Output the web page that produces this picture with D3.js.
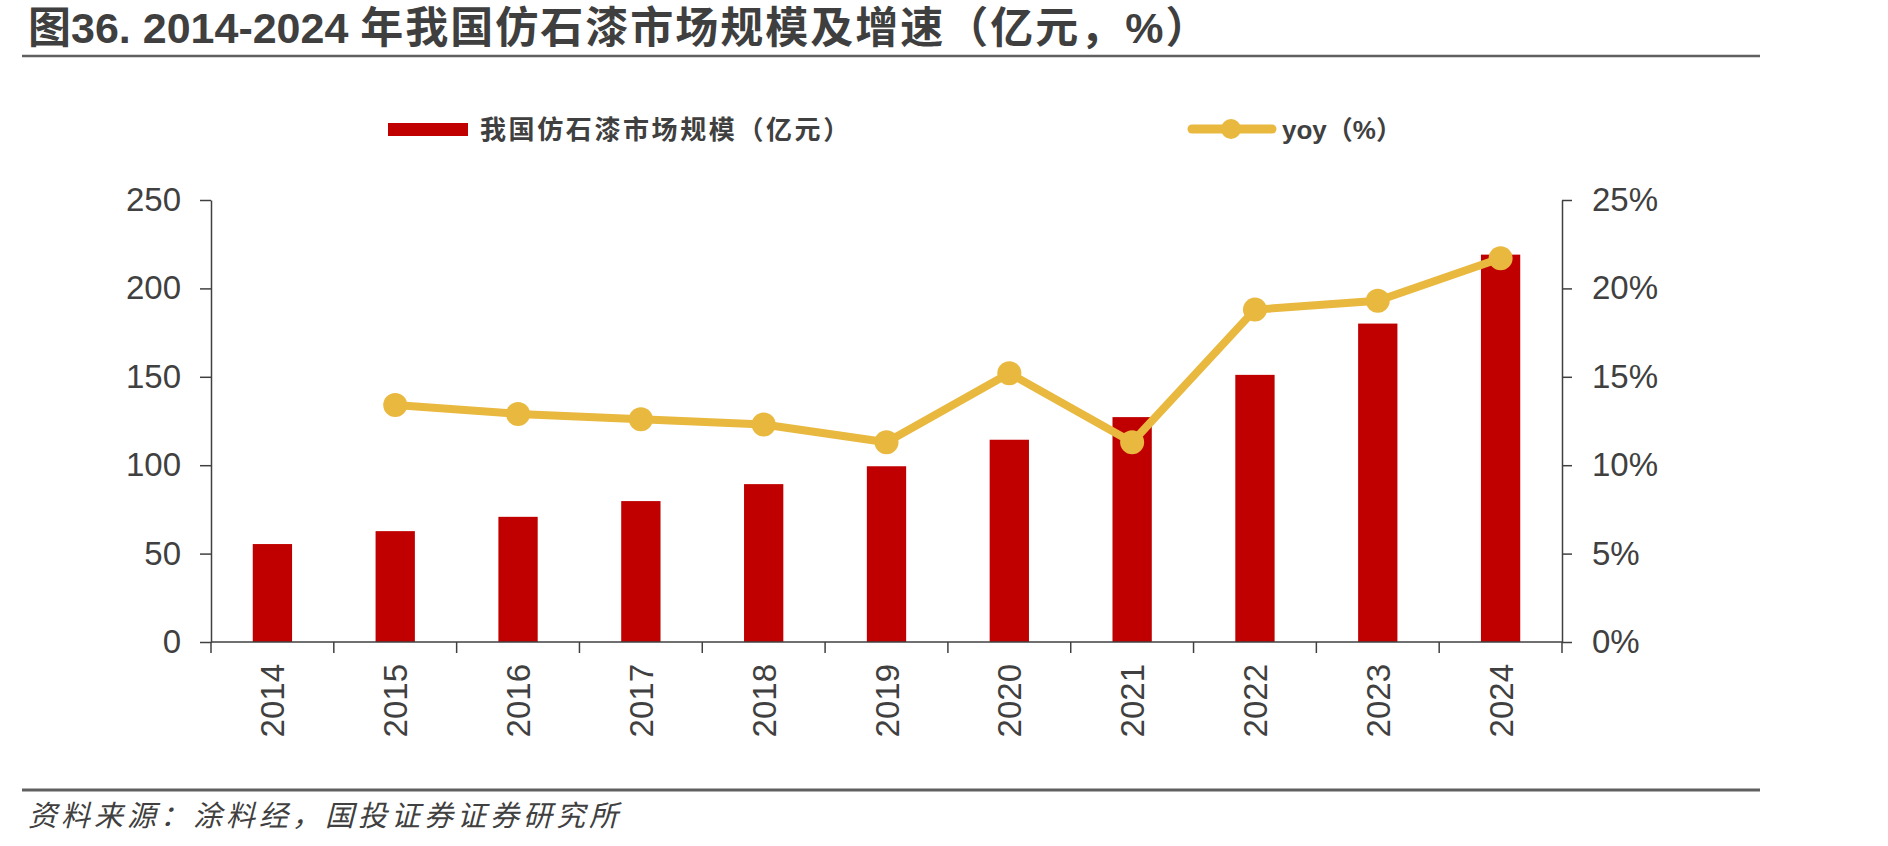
<!DOCTYPE html>
<html>
<head>
<meta charset="utf-8">
<script src="https://cdn.jsdelivr.net/npm/d3@7"></script>
<style>
  body { margin: 0; background: #fff; }
  svg { display: block; }
  .axis text { font-family: "Liberation Sans", Arial, sans-serif; font-size: 33px; fill: #404040; }
  .axis path, .axis line { stroke: #404040; stroke-width: 1.5; }
</style>
</head>
<body>
<div id="chart"></div>
<script>
// data
const years = ['2014','2015','2016','2017','2018','2019','2020','2021','2022','2023','2024'];
const marketSize = [55.4, 62.7, 70.8, 79.7, 89.3, 99.4, 114.4, 127.2, 151.1, 180.1, 219.1];
const yoy = [null, 13.4, 12.9, 12.6, 12.3, 11.3, 15.2, 11.3, 18.8, 19.3, 21.7];
const leftTicks = [0, 50, 100, 150, 200, 250];
const rightTicks = [0, 5, 10, 15, 20, 25];

const barLabel = '我国仿石漆市场规模（亿元）';
const lineLabel = 'yoy（%）';
const titleParts = ['图36. 2014-2024 ', '年我国仿石漆市场规模及增速（亿元，%）'];
const sourceText = '资料来源：涂料经，国投证券证券研究所';

const width = 1888, height = 846;
const plot = {left: 211, right: 1562, top: 200, bottom: 642};
const barColor = '#C00000', lineColor = '#E9B83E', textColor = '#404040';

const svg = d3.select('#chart').append('svg')
  .attr('width', width).attr('height', height);

// title
const title = svg.append('text')
  .attr('x', 28).attr('y', 43)
  .style('font-family', '"Liberation Sans", "Noto Sans CJK SC", sans-serif')
  .style('font-size', '43px').style('font-weight', 'bold')
  .style('fill', '#3f3f3f');
title.append('tspan').text(titleParts[0]);
title.append('tspan').style('letter-spacing', '2px').text(titleParts[1]);
svg.append('line').attr('x1', 22).attr('x2', 1760).attr('y1', 56).attr('y2', 56)
  .attr('stroke', '#606060').attr('stroke-width', 2.5);

// scales
const x = d3.scaleBand().domain(years).range([plot.left, plot.right])
  .paddingInner(0.68).paddingOuter(0.34);
const xEdge = d3.scaleLinear().domain([0, years.length]).range([plot.left, plot.right]);
const yL = d3.scaleLinear().domain([0, 250]).range([plot.bottom, plot.top]);
const yR = d3.scaleLinear().domain([0, 25]).range([plot.bottom, plot.top]);

// bars
svg.append('g').selectAll('rect').data(years).join('rect')
  .attr('x', d => x(d))
  .attr('y', (d, i) => yL(marketSize[i]))
  .attr('width', x.bandwidth())
  .attr('height', (d, i) => yL(0) - yL(marketSize[i]))
  .attr('fill', barColor);

// axes
svg.append('g').attr('class', 'axis')
  .attr('transform', `translate(${plot.left},0)`)
  .call(d3.axisLeft(yL).tickValues(leftTicks).tickSize(11).tickSizeOuter(0).tickPadding(19));
svg.append('g').attr('class', 'axis')
  .attr('transform', `translate(${plot.right},0)`)
  .call(d3.axisRight(yR).tickValues(rightTicks).tickSize(10).tickSizeOuter(0).tickPadding(20)
    .tickFormat(d => d + '%'));

const xAxis = svg.append('g').attr('class', 'axis');
xAxis.append('line')
  .attr('x1', plot.left).attr('x2', plot.right)
  .attr('y1', plot.bottom).attr('y2', plot.bottom);
xAxis.selectAll('.tick-edge').data(d3.range(years.length + 1)).join('line')
  .attr('class', 'tick-edge')
  .attr('x1', d => xEdge(d)).attr('x2', d => xEdge(d))
  .attr('y1', plot.bottom).attr('y2', plot.bottom + 11);
xAxis.selectAll('.xlabel').data(years).join('text')
  .attr('class', 'xlabel')
  .attr('transform', d => `translate(${x(d) + x.bandwidth() / 2 + 12},${plot.bottom + 22}) rotate(-90)`)
  .attr('text-anchor', 'end')
  .text(d => d);

// line
const pts = years.map((d, i) => ({year: d, v: yoy[i]})).filter(d => d.v != null);
const line = d3.line()
  .x(d => x(d.year) + x.bandwidth() / 2)
  .y(d => yR(d.v));
svg.append('path').datum(pts)
  .attr('d', line)
  .attr('fill', 'none')
  .attr('stroke', lineColor)
  .attr('stroke-width', 8)
  .attr('stroke-linejoin', 'round');
svg.append('g').selectAll('circle').data(pts).join('circle')
  .attr('cx', d => x(d.year) + x.bandwidth() / 2)
  .attr('cy', d => yR(d.v))
  .attr('r', 12)
  .attr('fill', lineColor);

// legend
const legend = svg.append('g');
legend.append('rect').attr('x', 388).attr('y', 123).attr('width', 80).attr('height', 13).attr('fill', barColor);
legend.append('text').attr('x', 480).attr('y', 130).attr('dy', '0.36em')
  .style('font-family', '"Noto Sans CJK SC", sans-serif').style('font-size', '26px').style('font-weight', 'bold')
  .style('letter-spacing', '2.6px')
  .style('fill', textColor).text(barLabel);
legend.append('line').attr('x1', 1192).attr('x2', 1272).attr('y1', 129).attr('y2', 129)
  .attr('stroke', lineColor).attr('stroke-width', 9).attr('stroke-linecap', 'round');
legend.append('circle').attr('cx', 1231).attr('cy', 129).attr('r', 10).attr('fill', lineColor);
legend.append('text').attr('x', 1282).attr('y', 130).attr('dy', '0.36em')
  .style('font-family', '"Liberation Sans", "Noto Sans CJK SC", sans-serif').style('font-size', '26px').style('font-weight', 'bold')
  .style('fill', textColor).text(lineLabel);

// source
svg.append('line').attr('x1', 22).attr('x2', 1760).attr('y1', 790).attr('y2', 790)
  .attr('stroke', '#606060').attr('stroke-width', 3);
svg.append('text').attr('x', 28).attr('y', 826)
  .style('font-family', '"Noto Sans CJK SC", sans-serif').style('font-size', '29px')
  .style('font-style', 'italic').style('letter-spacing', '4px').style('fill', '#404040')
  .text(sourceText);
</script>
</body>
</html>
